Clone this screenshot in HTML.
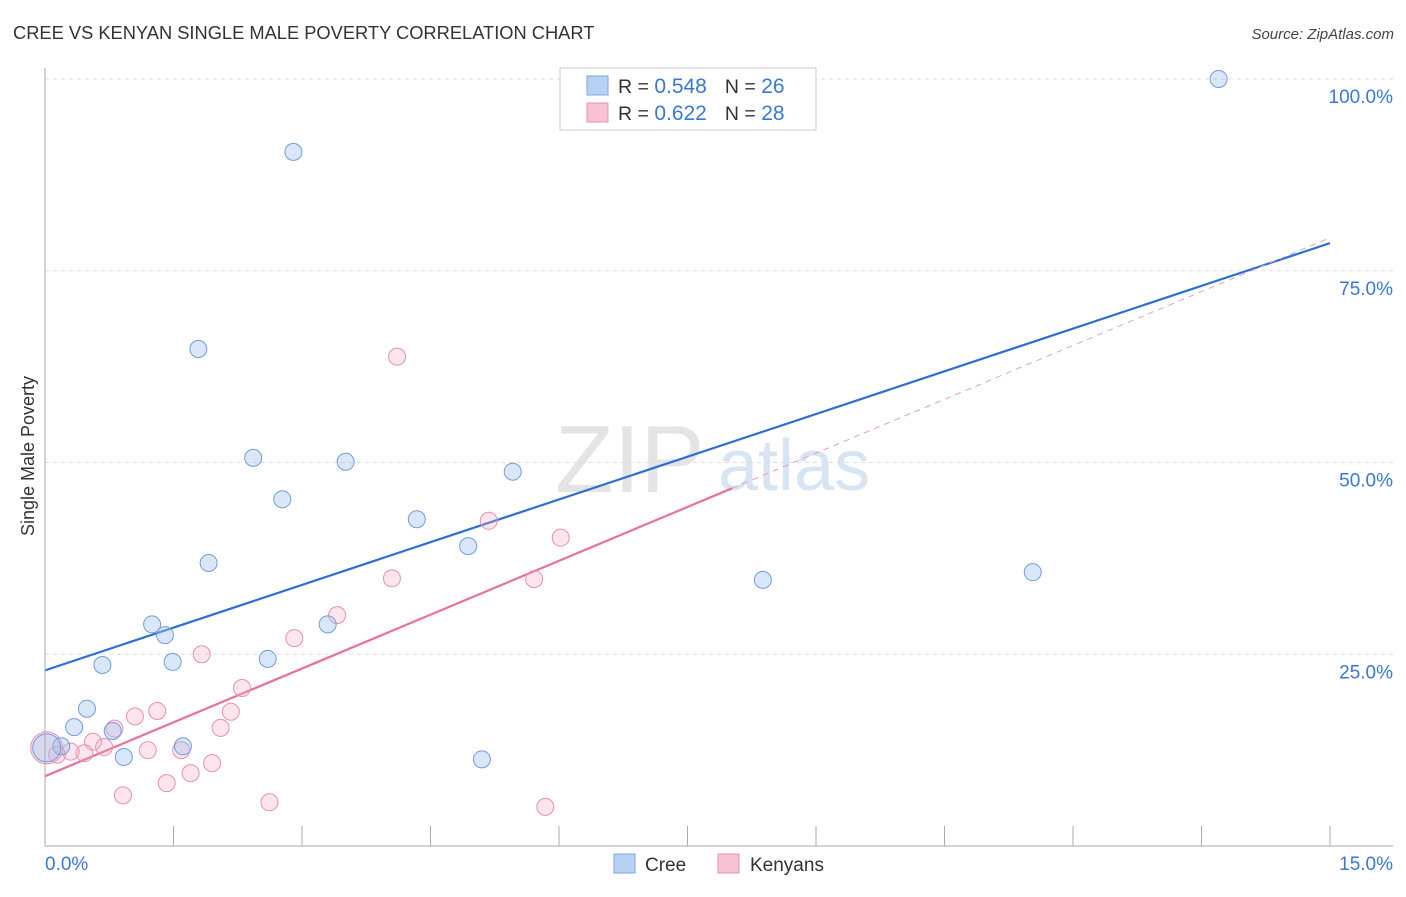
<!DOCTYPE html>
<html><head><meta charset="utf-8"><style>
body{margin:0;background:#fff;font-family:"Liberation Sans",sans-serif;}
svg text{font-family:"Liberation Sans",sans-serif;}
</style></head><body>
<svg id="chart" width="1406" height="892" xmlns="http://www.w3.org/2000/svg">
<text x="13" y="39" font-size="18.3" fill="#333">CREE VS KENYAN SINGLE MALE POVERTY CORRELATION CHART</text>
<text x="1394" y="39" font-size="15" fill="#444" text-anchor="end" font-style="italic">Source: ZipAtlas.com</text>
<text x="555" y="492" font-size="96" fill="#e4e4e4" font-family="Liberation Serif">ZIP</text>
<text x="718" y="490" font-size="72" fill="#d6e4f3">atlas</text>
<text transform="translate(34,456) rotate(-90)" font-size="18" fill="#333" text-anchor="middle">Single Male Poverty</text>
<g id="grid"></g><g id="ticks"></g><g id="lines"></g><g id="pts"></g>
<line x1="45" y1="68" x2="45" y2="846" stroke="#aaa"/>
<line x1="45" y1="846" x2="1393" y2="846" stroke="#aaa"/>
<text x="45" y="870" font-size="19" fill="#3a78d4">0.0%</text>
<text x="1393" y="870" font-size="19" fill="#3a78d4" text-anchor="end">15.0%</text>
<g>
<rect x="560" y="68" width="256" height="62" fill="#fff" stroke="#ccc"/>
<rect x="587" y="76" width="21" height="19" fill="#b8d1f3" stroke="#7aa6e0"/>
<rect x="587" y="103" width="21" height="19" fill="#f8c3d3" stroke="#e890ad"/>
<text x="618" y="93" font-size="19.5" fill="#333">R = <tspan fill="#3a78d4" font-size="21">0.548</tspan><tspan dx="18">N = </tspan><tspan fill="#3a78d4" font-size="21">26</tspan></text>
<text x="618" y="120" font-size="19.5" fill="#333">R = <tspan fill="#3a78d4" font-size="21"> 0.622</tspan><tspan dx="18">N = </tspan><tspan fill="#3a78d4" font-size="21">28</tspan></text>
</g>
<g>
<rect x="614" y="854" width="21" height="19" fill="#b8d1f3" stroke="#7aa6e0"/>
<text x="645" y="871" font-size="19" fill="#333">Cree</text>
<rect x="718" y="854" width="21" height="19" fill="#f8c3d3" stroke="#e890ad"/>
<text x="750" y="871" font-size="19" fill="#333">Kenyans</text>
</g>
</svg>
<script>
const yTicks=[25,50,75,100];
const yTickLabels=["25.0%","50.0%","75.0%","100.0%"];
const xTicks=[0,1.5,3,4.5,6,7.5,9,10.5,12,13.5,15];
const creeX=[13.70,2.90,1.79,2.43,3.51,5.46,2.77,4.34,4.94,1.91,8.38,11.53,1.25,1.40,3.30,0.67,1.49,2.60,0.49,0.34,0.79,1.61,0.19,0.92,5.10,0.02];
const creeY=[100.0,90.5,64.8,50.6,50.1,48.8,45.2,42.6,39.1,36.9,34.7,35.7,28.9,27.5,28.9,23.6,24.0,24.4,17.9,15.5,15.0,13.0,13.0,11.6,11.3,12.8];
const kenX=[4.11,5.18,6.02,4.05,5.71,3.41,2.91,1.83,2.30,1.31,2.17,1.05,0.81,2.05,0.56,0.69,1.20,1.59,0.46,0.30,0.14,1.95,1.70,1.42,0.91,2.62,5.84,0.02];
const kenY=[63.8,42.4,40.2,34.9,34.8,30.1,27.1,25.0,20.6,17.6,17.5,16.9,15.3,15.4,13.6,12.9,12.5,12.5,12.1,12.3,11.9,10.8,9.5,8.2,6.6,5.7,5.1,12.8];
const creeLine=[22.9,78.6];
const kenLine=[9.1,79.3];
const kenSolidEnd=8.02;
const X=v=>45+v*1285/15, Y=v=>846-v*7.67;
const NS="http://www.w3.org/2000/svg";
function mk(t,a,p){const e=document.createElementNS(NS,t);for(const k in a)e.setAttribute(k,a[k]);document.getElementById(p).appendChild(e);return e;}
yTicks.forEach((v,i)=>{
 const g=mk('line',{x1:45,x2:1393,y1:Y(v),y2:Y(v),stroke:'#ddd','stroke-dasharray':'4,4'},'grid');
 
 
 const t=mk('text',{x:1393,y:Y(v)+24,'font-size':19,fill:'#3a78d4','text-anchor':'end'},'grid');
 t.textContent=yTickLabels[i];
 
 
});
xTicks.forEach(v=>{
 const l=mk('line',{x1:X(v),x2:X(v),y1:826,y2:846,stroke:'#aaa'},'ticks');
 
 
});
let l1=mk('line',{x1:X(0),y1:Y(creeLine[0]),x2:X(15),y2:Y(creeLine[1]),stroke:'#2a6fd6','stroke-width':2.2},'lines');


const ky=x=>kenLine[0]+(kenLine[1]-kenLine[0])*x/15;
let l2=mk('line',{x1:X(0),y1:Y(ky(0)),x2:X(kenSolidEnd),y2:Y(ky(kenSolidEnd)),stroke:'#e8709a','stroke-width':2.2},'lines');


let l3=mk('line',{x1:X(kenSolidEnd),y1:Y(ky(kenSolidEnd)),x2:X(15),y2:Y(ky(15)),stroke:'#e8a0b8','stroke-width':1,'stroke-dasharray':'6,5'},'lines');


kenX.forEach((x,i)=>{
 const r=i==kenX.length-1?16:8.5;
 const c=mk('circle',{cx:X(x),cy:Y(kenY[i]),r:r,fill:'rgba(245,170,195,0.3)',stroke:'#e890ad','stroke-width':1},'pts');
 
 
});
creeX.forEach((x,i)=>{
 const r=i==creeX.length-1?14:8.5;
 const c=mk('circle',{cx:X(x),cy:Y(creeY[i]),r:r,fill:'rgba(160,195,240,0.4)',stroke:'#6f9de0','stroke-width':1},'pts');
 
 
});
</script>
</body></html>
